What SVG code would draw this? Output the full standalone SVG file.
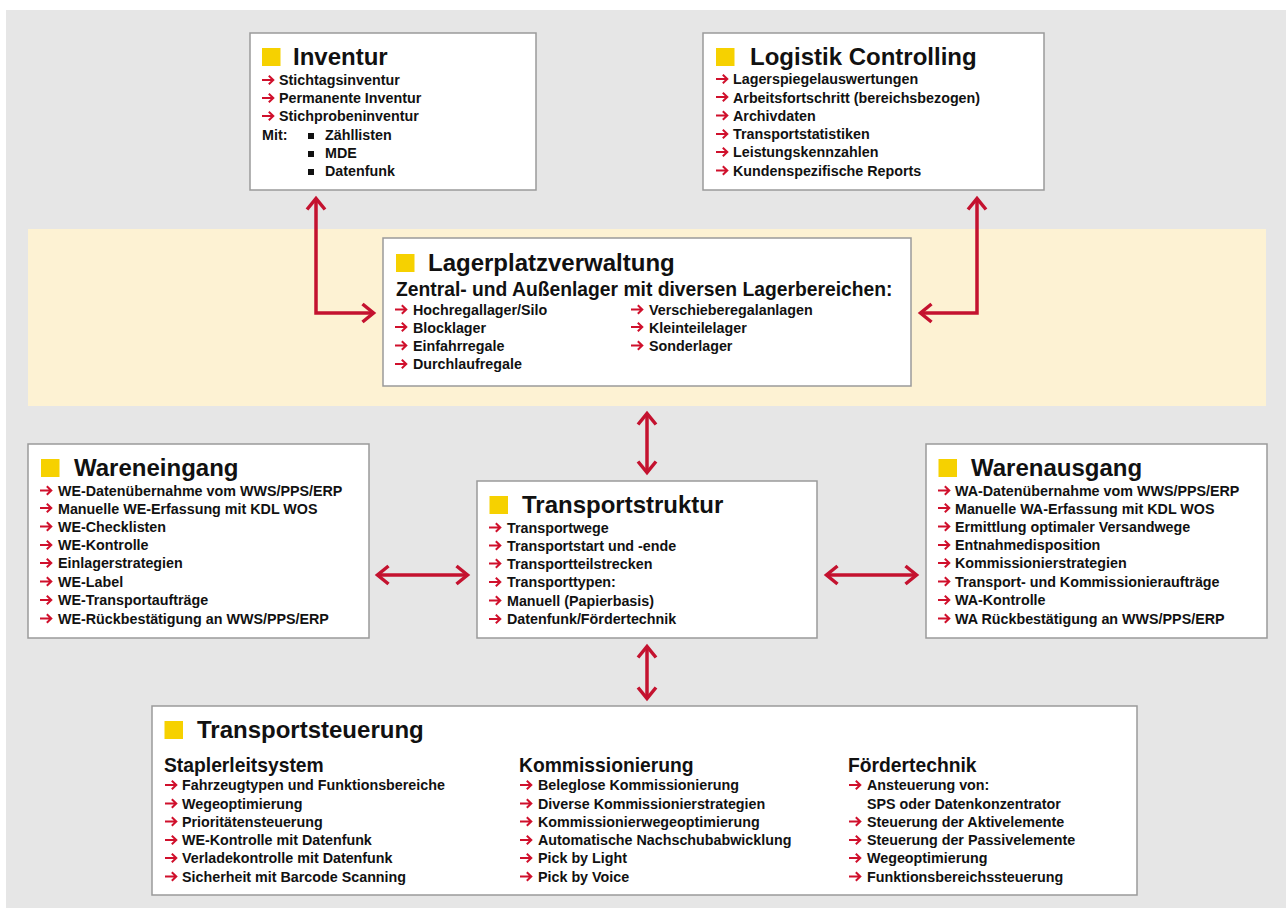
<svg xmlns="http://www.w3.org/2000/svg" xmlns:xlink="http://www.w3.org/1999/xlink" width="1286" height="908" viewBox="0 0 1286 908">
<style>
.box{fill:#ffffff;stroke:#9a9a9a;stroke-width:1.5}
.sq{fill:#f6d100}
.t{font-family:"Liberation Sans",Arial,sans-serif;font-weight:bold;fill:#111}
.h{font-size:24px}
.sh{font-size:19.3px}
.i{font-size:14.3px}
.con{fill:none;stroke:#c4122f;stroke-width:3.5;marker-start:url(#ah);marker-end:url(#ah)}
</style>
<defs>
<marker id="ah" markerUnits="userSpaceOnUse" markerWidth="30" markerHeight="30" viewBox="-15 -15 30 30" refX="0" refY="0" orient="auto-start-reverse">
<path d="M-9.5,-9 L1.5,0 L-9.5,9" fill="none" stroke="#c4122f" stroke-width="3.5"/>
</marker>
<path id="b" d="M0,0 H11 M6.8,-4.3 L11.3,0 L6.8,4.3" fill="none" stroke="#d0102c" stroke-width="2"/>
<rect id="sqb" width="6" height="6" fill="#111"/>
</defs>
<rect x="6" y="10" width="1280" height="898" fill="#e6e6e6"/>
<rect x="28" y="229" width="1238" height="177" fill="#fdf2d3"/>

<g id="connectors">
<path class="con" d="M316,200 L316,313 L372,313"/>
<path class="con" d="M977,200 L977,313 L922,313"/>
<path class="con" d="M647,415 L647,471"/>
<path class="con" d="M647,648 L647,697"/>
<path class="con" d="M379,575 L466,575"/>
<path class="con" d="M828,575 L915,575"/>
</g>

<g id="inventur">
<rect class="box" x="250" y="33" width="286" height="157"/>
<rect class="sq" x="262" y="48" width="18.5" height="18"/>
<text class="t h" x="293" y="65">Inventur</text>
<use href="#b" x="262" y="80"/><text class="t i" x="279" y="85">Stichtagsinventur</text>
<use href="#b" x="262" y="98"/><text class="t i" x="279" y="103">Permanente Inventur</text>
<use href="#b" x="262" y="116"/><text class="t i" x="279" y="121">Stichprobeninventur</text>
<text class="t i" x="262" y="140">Mit:</text>
<use href="#sqb" x="308" y="133"/><text class="t i" x="325" y="140">Zähllisten</text>
<use href="#sqb" x="308" y="151"/><text class="t i" x="325" y="158">MDE</text>
<use href="#sqb" x="308" y="169"/><text class="t i" x="325" y="176">Datenfunk</text>
</g>

<g id="logistik-controlling">
<rect class="box" x="703" y="33" width="341" height="157"/>
<rect class="sq" x="716" y="48" width="18.5" height="18"/>
<text class="t h" x="750" y="65">Logistik Controlling</text>
<use href="#b" x="716" y="79"/><text class="t i" x="733" y="84.3">Lagerspiegelauswertungen</text>
<use href="#b" x="716" y="97"/><text class="t i" x="733" y="102.5">Arbeitsfortschritt (bereichsbezogen)</text>
<use href="#b" x="716" y="115.5"/><text class="t i" x="733" y="120.8">Archivdaten</text>
<use href="#b" x="716" y="134"/><text class="t i" x="733" y="139">Transportstatistiken</text>
<use href="#b" x="716" y="152"/><text class="t i" x="733" y="157.3">Leistungskennzahlen</text>
<use href="#b" x="716" y="170.5"/><text class="t i" x="733" y="175.8">Kundenspezifische Reports</text>
</g>

<g id="lagerplatzverwaltung">
<rect class="box" x="383" y="238" width="528" height="148"/>
<rect class="sq" x="396" y="254" width="18.5" height="18"/>
<text class="t h" x="428" y="271">Lagerplatzverwaltung</text>
<text class="t sh" x="396" y="296">Zentral- und Außenlager mit diversen Lagerbereichen:</text>
<use href="#b" x="395" y="309.5"/><text class="t i" x="413" y="315">Hochregallager/Silo</text>
<use href="#b" x="395" y="327"/><text class="t i" x="413" y="332.5">Blocklager</text>
<use href="#b" x="395" y="345.5"/><text class="t i" x="413" y="351">Einfahrregale</text>
<use href="#b" x="395" y="364"/><text class="t i" x="413" y="369.3">Durchlaufregale</text>
<use href="#b" x="631" y="309.5"/><text class="t i" x="649" y="315">Verschieberegalanlagen</text>
<use href="#b" x="631" y="327"/><text class="t i" x="649" y="332.5">Kleinteilelager</text>
<use href="#b" x="631" y="345.5"/><text class="t i" x="649" y="351">Sonderlager</text>
</g>

<g id="wareneingang">
<rect class="box" x="28" y="444" width="341" height="194"/>
<rect class="sq" x="41" y="459" width="18.5" height="18"/>
<text class="t h" x="74" y="476">Wareneingang</text>
<use href="#b" x="40" y="490.5"/><text class="t i" x="58" y="495.7">WE-Datenübernahme vom WWS/PPS/ERP</text>
<use href="#b" x="40" y="508"/><text class="t i" x="58" y="513.5">Manuelle WE-Erfassung mit KDL WOS</text>
<use href="#b" x="40" y="526.5"/><text class="t i" x="58" y="531.8">WE-Checklisten</text>
<use href="#b" x="40" y="545"/><text class="t i" x="58" y="550">WE-Kontrolle</text>
<use href="#b" x="40" y="563"/><text class="t i" x="58" y="568.3">Einlagerstrategien</text>
<use href="#b" x="40" y="581.5"/><text class="t i" x="58" y="586.7">WE-Label</text>
<use href="#b" x="40" y="600"/><text class="t i" x="58" y="605">WE-Transportaufträge</text>
<use href="#b" x="40" y="618.5"/><text class="t i" x="58" y="623.8">WE-Rückbestätigung an WWS/PPS/ERP</text>
</g>

<g id="transportstruktur">
<rect class="box" x="477" y="481" width="340" height="157"/>
<rect class="sq" x="489.5" y="496" width="18.5" height="18"/>
<text class="t h" x="522" y="513">Transportstruktur</text>
<use href="#b" x="489" y="527.5"/><text class="t i" x="507" y="532.7">Transportwege</text>
<use href="#b" x="489" y="545.5"/><text class="t i" x="507" y="550.7">Transportstart und -ende</text>
<use href="#b" x="489" y="563.5"/><text class="t i" x="507" y="568.7">Transportteilstrecken</text>
<use href="#b" x="489" y="582"/><text class="t i" x="507" y="587.3">Transporttypen:</text>
<use href="#b" x="489" y="600.5"/><text class="t i" x="507" y="605.7">Manuell (Papierbasis)</text>
<use href="#b" x="489" y="619"/><text class="t i" x="507" y="624.3">Datenfunk/Fördertechnik</text>
</g>

<g id="warenausgang">
<rect class="box" x="926" y="444" width="341" height="194"/>
<rect class="sq" x="938.5" y="459" width="18.5" height="18"/>
<text class="t h" x="971" y="476">Warenausgang</text>
<use href="#b" x="938" y="490.5"/><text class="t i" x="955" y="495.7">WA-Datenübernahme vom WWS/PPS/ERP</text>
<use href="#b" x="938" y="508"/><text class="t i" x="955" y="513.5">Manuelle WA-Erfassung mit KDL WOS</text>
<use href="#b" x="938" y="526.5"/><text class="t i" x="955" y="531.8">Ermittlung optimaler Versandwege</text>
<use href="#b" x="938" y="545"/><text class="t i" x="955" y="550">Entnahmedisposition</text>
<use href="#b" x="938" y="563"/><text class="t i" x="955" y="568.3">Kommissionierstrategien</text>
<use href="#b" x="938" y="581.5"/><text class="t i" x="955" y="586.7">Transport- und Kommissionieraufträge</text>
<use href="#b" x="938" y="600"/><text class="t i" x="955" y="605">WA-Kontrolle</text>
<use href="#b" x="938" y="618.5"/><text class="t i" x="955" y="623.8">WA Rückbestätigung an WWS/PPS/ERP</text>
</g>

<g id="transportsteuerung">
<rect class="box" x="152" y="706" width="985" height="189"/>
<rect class="sq" x="164.5" y="721" width="18.5" height="18"/>
<text class="t h" x="197" y="738.3">Transportsteuerung</text>
<text class="t sh" x="164" y="772">Staplerleitsystem</text>
<use href="#b" x="165" y="785"/><text class="t i" x="182" y="790">Fahrzeugtypen und Funktionsbereiche</text>
<use href="#b" x="165" y="803.5"/><text class="t i" x="182" y="808.5">Wegeoptimierung</text>
<use href="#b" x="165" y="821.5"/><text class="t i" x="182" y="826.7">Prioritätensteuerung</text>
<use href="#b" x="165" y="840"/><text class="t i" x="182" y="845">WE-Kontrolle mit Datenfunk</text>
<use href="#b" x="165" y="858"/><text class="t i" x="182" y="863.3">Verladekontrolle mit Datenfunk</text>
<use href="#b" x="165" y="876.5"/><text class="t i" x="182" y="881.7">Sicherheit mit Barcode Scanning</text>
<text class="t sh" x="519" y="772">Kommissionierung</text>
<use href="#b" x="520" y="785"/><text class="t i" x="538" y="790">Beleglose Kommissionierung</text>
<use href="#b" x="520" y="803.5"/><text class="t i" x="538" y="808.5">Diverse Kommissionierstrategien</text>
<use href="#b" x="520" y="821.5"/><text class="t i" x="538" y="826.7">Kommissionierwegeoptimierung</text>
<use href="#b" x="520" y="840"/><text class="t i" x="538" y="845">Automatische Nachschubabwicklung</text>
<use href="#b" x="520" y="858"/><text class="t i" x="538" y="863.3">Pick by Light</text>
<use href="#b" x="520" y="876.5"/><text class="t i" x="538" y="881.7">Pick by Voice</text>
<text class="t sh" x="848" y="772">Fördertechnik</text>
<use href="#b" x="849" y="785"/><text class="t i" x="867" y="790">Ansteuerung von:</text>
<text class="t i" x="867" y="808.5">SPS oder Datenkonzentrator</text>
<use href="#b" x="849" y="821.5"/><text class="t i" x="867" y="826.7">Steuerung der Aktivelemente</text>
<use href="#b" x="849" y="840"/><text class="t i" x="867" y="845">Steuerung der Passivelemente</text>
<use href="#b" x="849" y="858"/><text class="t i" x="867" y="863.3">Wegeoptimierung</text>
<use href="#b" x="849" y="876.5"/><text class="t i" x="867" y="881.7">Funktionsbereichssteuerung</text>
</g>
</svg>
